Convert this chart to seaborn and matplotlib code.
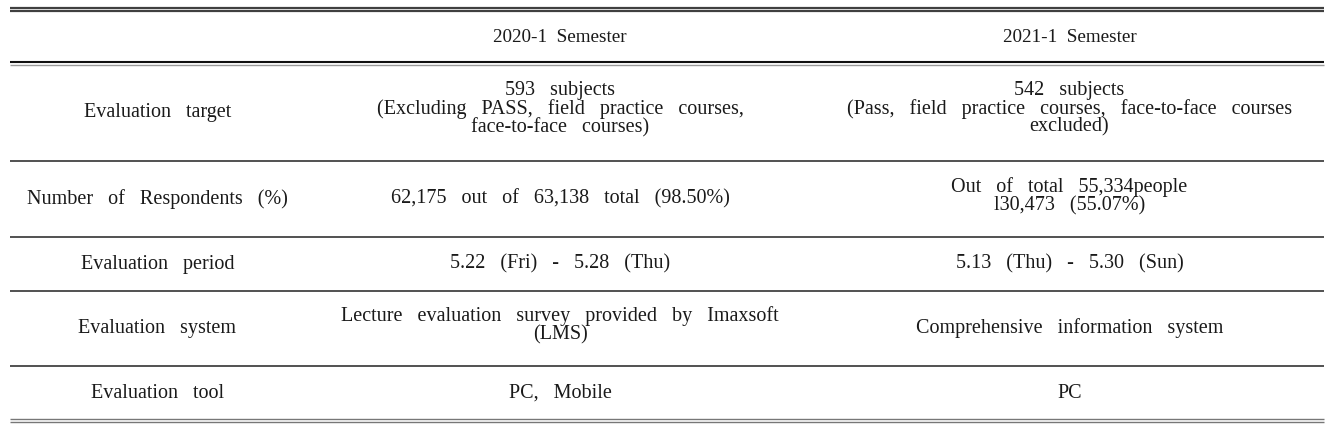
import matplotlib
matplotlib.use("Agg")
import matplotlib.pyplot as plt
import seaborn as sns

# Table contents
header = ["", "2020-1  Semester", "2021-1  Semester"]
row_labels = ["Evaluation   target", "Number   of   Respondents   (%)", "Evaluation   period",
              "Evaluation   system", "Evaluation   tool"]
sem_2020 = ["593   subjects\n(Excluding   PASS,   field   practice   courses,\nface-to-face   courses)",
            "62,175   out   of   63,138   total   (98.50%)",
            "5.22   (Fri)   -   5.28   (Thu)",
            "Lecture   evaluation   survey   provided   by   Imaxsoft\n(LMS)",
            "PC,   Mobile"]
sem_2021 = ["542   subjects\n(Pass,   field   practice   courses,   face-to-face   courses\nexcluded)",
            "Out   of   total   55,334people\nl30,473   (55.07%)",
            "5.13   (Thu)   -   5.30   (Sun)",
            "Comprehensive   information   system",
            "PC"]

# layout in pixels
W, H = 1343, 424
x_left, x_right = 10, 1324
col_edges = [10, 305, 815, 1324]
row_edges = [9.5, 63, 161, 237, 291, 366, 420]

sns.set_theme(style="white")
plt.rcParams['font.family'] = ['Liberation Serif', 'DejaVu Serif']

fig = plt.figure(figsize=(W / 100, H / 100), dpi=100)
ax = fig.add_axes([0, 0, 1, 1])
ax.set_xlim(0, W)
ax.set_ylim(H, 0)
ax.axis("off")

fs_head = 13.8
fs = 14.5
txt = "#1a1a1a"

# header
y_head = (row_edges[0] + row_edges[1]) / 2
for j in range(3):
    xc = (col_edges[j] + col_edges[j + 1]) / 2
    ax.text(xc, y_head + 1, header[j], ha="center", va="center", fontsize=fs_head, color=txt)

# body rows
for i in range(len(row_labels)):
    yc = (row_edges[i + 1] + row_edges[i + 2]) / 2
    cells = [row_labels[i], sem_2020[i], sem_2021[i]]
    for j in range(3):
        xc = (col_edges[j] + col_edges[j + 1]) / 2
        dy = -3 if "\n" in cells[j] else 0
        ax.text(xc, yc + dy, cells[j], ha="center", va="center", fontsize=fs,
                color=txt, linespacing=0.92, multialignment="center")

# rules
def rule(y, lw, color):
    ax.plot([x_left, x_right], [y, y], color=color, lw=lw, solid_capstyle="butt")

# top double rule
rule(7.5, 1.6, "#404040")
rule(10.5, 1.6, "#404040")
# header double rule
rule(61.5, 1.5, "#111111")
rule(64.8, 1.0, "#999999")
# row separators
for y in row_edges[2:-1]:
    rule(y, 1.2, "#333333")
# bottom double rule
rule(418.5, 1.0, "#777777")
rule(421.5, 1.0, "#777777")

fig.savefig("out.png", dpi=100, facecolor="white")
